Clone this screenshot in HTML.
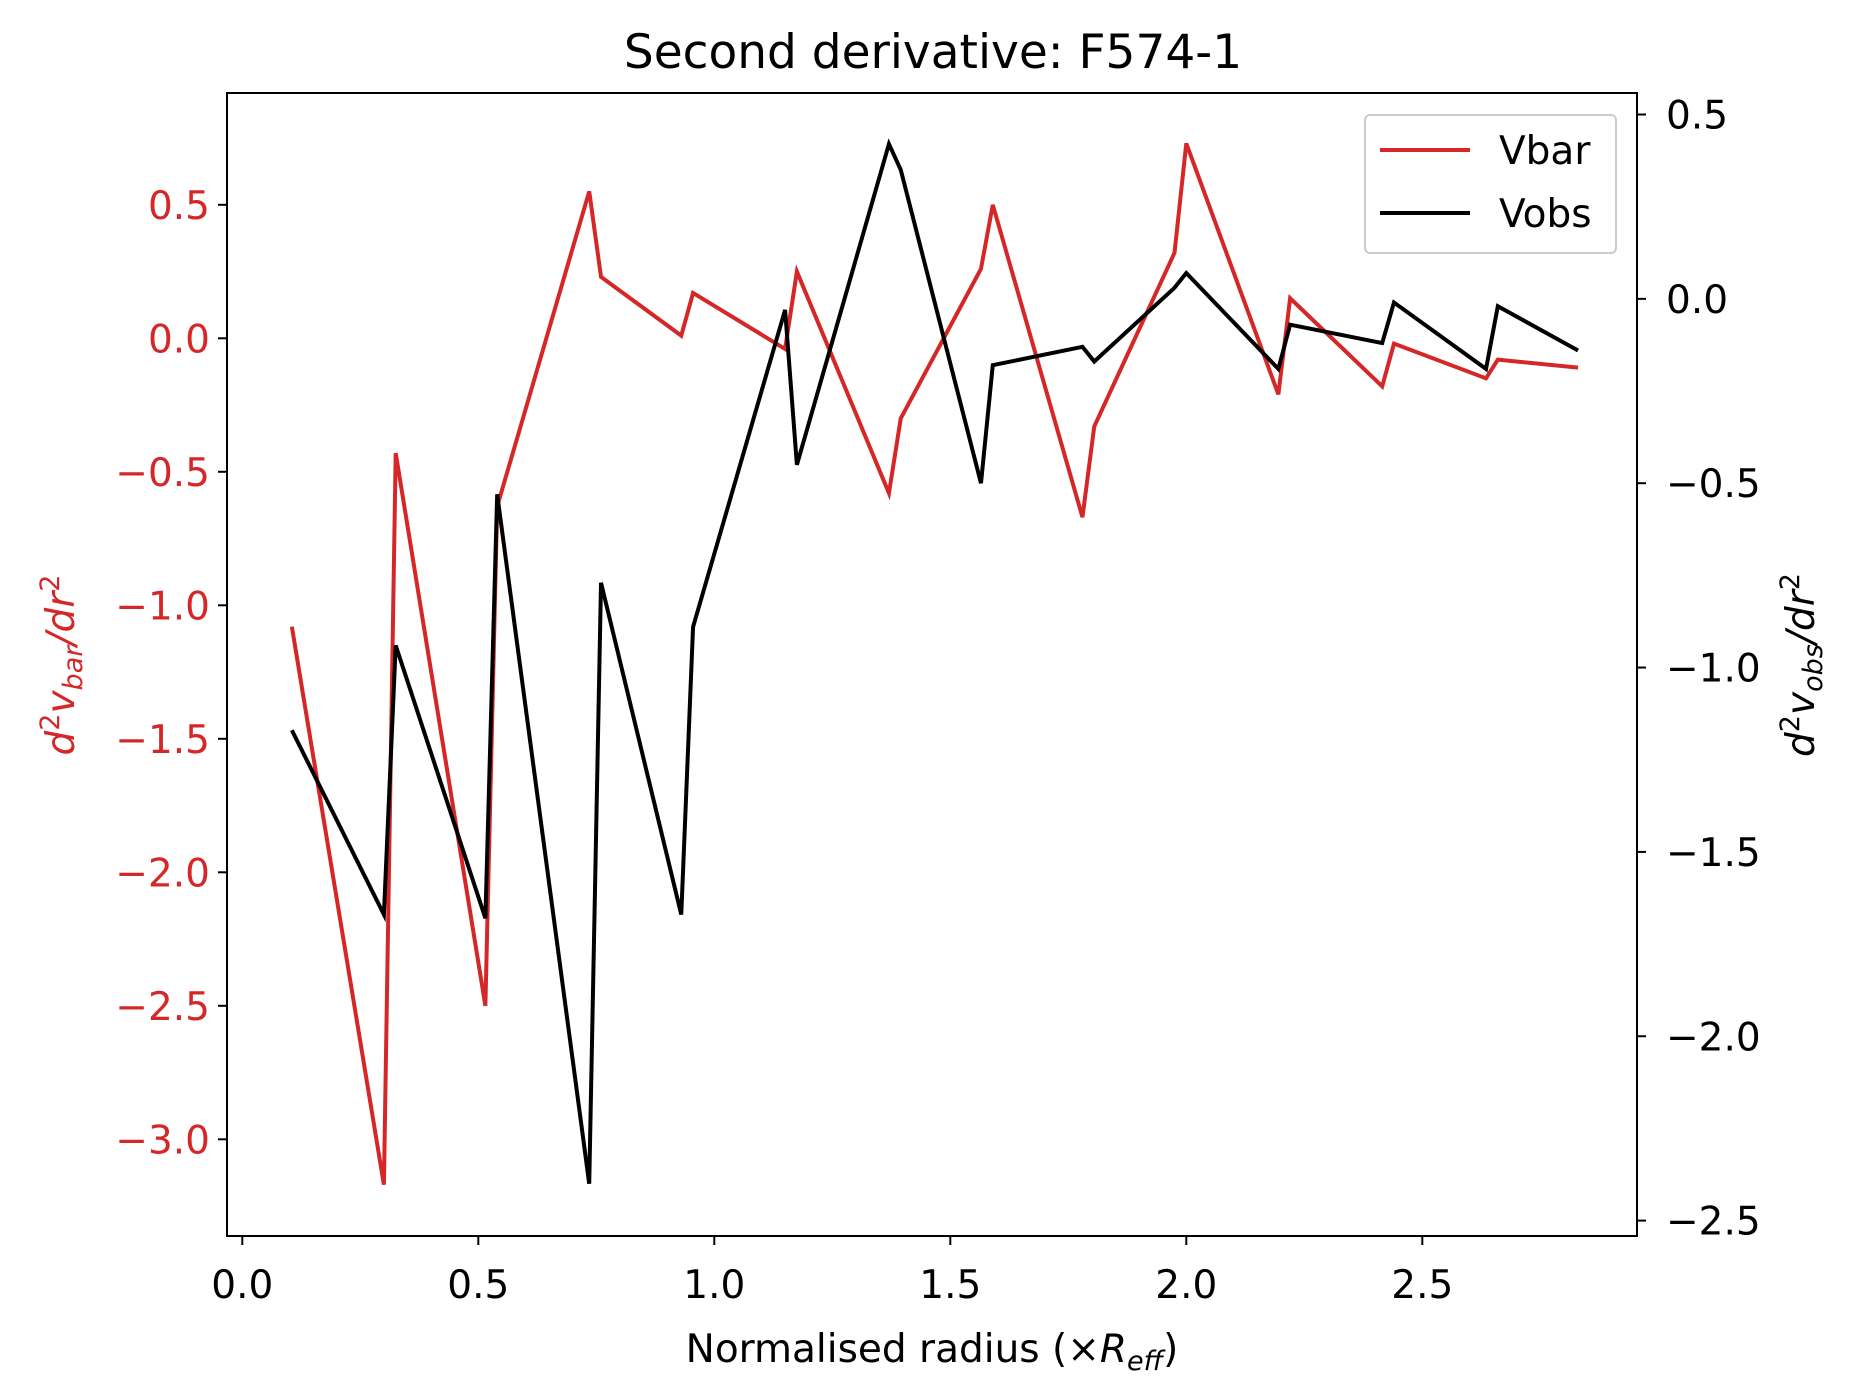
<!DOCTYPE html>
<html><head><meta charset="utf-8"><style>
html,body{margin:0;padding:0;background:#fff;}
svg{display:block;font-family:"DejaVu Sans","Liberation Sans",sans-serif;}
</style></head><body>
<svg id="chart" width="1862" height="1397" viewBox="0 0 1862 1397" xmlns="http://www.w3.org/2000/svg">
<rect width="1862" height="1397" fill="#fff"/>
<text x="933" y="68" text-anchor="middle" font-size="47">Second derivative: F574-1</text>
<g id="marks"></g>
<rect x="227" y="93" width="1410" height="1143" fill="none" stroke="#000" stroke-width="2"/>
<g id="ticks"></g>
<text x="932" y="1362" text-anchor="middle" font-size="39">Normalised radius (×<tspan font-style="italic">R</tspan><tspan font-style="italic" font-size="27" dy="8">eff</tspan><tspan dy="-8">)</tspan></text>
<text transform="translate(74,665) rotate(-90)" text-anchor="middle" font-size="39" fill="#d62728" font-style="italic">d<tspan font-size="27" dy="-15" font-style="normal">2</tspan><tspan dy="15">v</tspan><tspan font-size="27" dy="8">bar</tspan><tspan dy="-8">/dr</tspan><tspan font-size="27" dy="-15" font-style="normal">2</tspan></text>
<text transform="translate(1814,665) rotate(-90)" text-anchor="middle" font-size="39" fill="#000" font-style="italic">d<tspan font-size="27" dy="-15" font-style="normal">2</tspan><tspan dy="15">v</tspan><tspan font-size="27" dy="8">obs</tspan><tspan dy="-8">/dr</tspan><tspan font-size="27" dy="-15" font-style="normal">2</tspan></text>
<g>
<rect x="1365" y="115" width="251" height="138" rx="5" fill="#fff" fill-opacity="0.8" stroke="#ccc" stroke-width="2"/>
<line x1="1380" y1="150" x2="1470" y2="150" stroke="#d62728" stroke-width="4"/>
<text x="1499" y="164" font-size="39">Vbar</text>
<line x1="1380" y1="213" x2="1470" y2="213" stroke="#000" stroke-width="4"/>
<text x="1499" y="227" font-size="39">Vobs</text>
</g>
</svg>
<script>
const radius = [0.105,0.30,0.325,0.515,0.54,0.735,0.76,0.93,0.955,1.15,1.175,1.37,1.395,1.565,1.59,1.78,1.805,1.975,2.0,2.195,2.22,2.415,2.44,2.635,2.66,2.83];
const vbarValues = [-1.08,-3.17,-0.43,-2.50,-0.63,0.55,0.23,0.01,0.17,-0.04,0.25,-0.58,-0.30,0.26,0.50,-0.67,-0.33,0.32,0.73,-0.21,0.15,-0.18,-0.02,-0.15,-0.08,-0.11];
const vobsValues = [-1.17,-1.67,-0.94,-1.68,-0.53,-2.40,-0.77,-1.67,-0.89,-0.03,-0.45,0.42,0.35,-0.50,-0.18,-0.13,-0.17,0.03,0.07,-0.19,-0.07,-0.12,-0.01,-0.19,-0.02,-0.14];
const xTicks = [0.0,0.5,1.0,1.5,2.0,2.5];
const leftTicks = [0.5,0.0,-0.5,-1.0,-1.5,-2.0,-2.5,-3.0];
const rightTicks = [0.5,0.0,-0.5,-1.0,-1.5,-2.0,-2.5];

const NS="http://www.w3.org/2000/svg";
const xS = v => 242.3 + v*472;
const yL = v => 204.8 + (0.5 - v)*267;
const yR = v => 114.5 + (0.5 - v)*368.7;
const fmt = v => (v<0?"\u2212":"")+Math.abs(v).toFixed(1);

const marks=document.getElementById('marks');
function line(pts, color, name){
  const p=document.createElementNS(NS,'polyline');
  p.setAttribute('points',pts.map(q=>q.join(',')).join(' '));
  p.setAttribute('fill','none');p.setAttribute('stroke',color);p.setAttribute('stroke-width','4');
  
  
  marks.appendChild(p);
}
line(radius.map((r,i)=>[xS(r),yL(vbarValues[i])]),'#d62728','vbar-line');
line(radius.map((r,i)=>[xS(r),yR(vobsValues[i])]),'#000','vobs-line');

const ticks=document.getElementById('ticks');
function add(tag,attrs,text){
  const e=document.createElementNS(NS,tag);
  for(const k in attrs)e.setAttribute(k,attrs[k]);
  if(text!==undefined)e.textContent=text;
  ticks.appendChild(e);return e;
}
xTicks.forEach(v=>{
  const x=xS(v);
  add('line',{x1:x,y1:1236,x2:x,y2:1245,stroke:'#000','stroke-width':2});
  const t=add('text',{x:x,y:1298,'text-anchor':'middle','font-size':39},fmt(v));
  
  
});
leftTicks.forEach(v=>{
  const y=yL(v);
  add('line',{x1:218,y1:y,x2:227,y2:y,stroke:'#000','stroke-width':2});
  const t=add('text',{x:210,y:y+14,'text-anchor':'end','font-size':39,fill:'#d62728'},fmt(v));
  
  
});
rightTicks.forEach(v=>{
  const y=yR(v);
  add('line',{x1:1637,y1:y,x2:1646,y2:y,stroke:'#000','stroke-width':2});
  const t=add('text',{x:1666,y:y+14,'text-anchor':'start','font-size':39},fmt(v));
  
  
});
</script>
</body></html>
